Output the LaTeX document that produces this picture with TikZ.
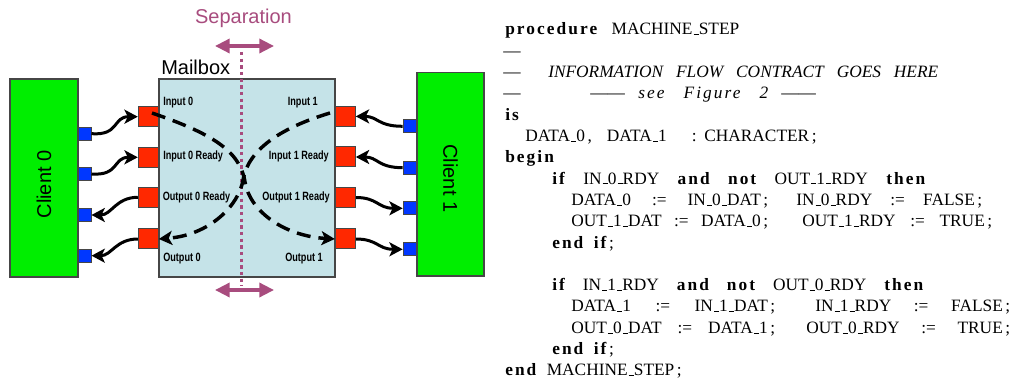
\documentclass[tikz,border=0pt]{standalone}
\usepackage{fontspec}
\usepackage{graphicx}
\usetikzlibrary{arrows.meta}
\setmainfont{Liberation Serif}
\newfontfamily\sansfont{Liberation Sans}
\newfontfamily\kwfont[LetterSpace=12]{Liberation Serif}
\newcommand\kwd[1]{{\kwfont\bfseries #1}}
\newcommand\kwi[1]{{\kwfont\itshape #1}}
\newcommand\us{\leavevmode\kern.06em\vbox{\hrule width .3em height 0.5pt}}
\newcommand\semi{\kern.15em;}
\newcommand\comm{\kern.15em,}
\newcommand\wgap{\hspace{.6em}}
\newdimen\upx \upx=0.75pt
\newcommand\codeln[5]{\node[code] (#1) at (#2,#3) {\makebox[#4\upx][s]{#5}};}
\newcommand\nar[1]{\scalebox{0.76}[1]{#1}}
\definecolor{clientgreen}{RGB}{0,238,0}
\definecolor{portblue}{RGB}{0,55,255}
\definecolor{portred}{RGB}{255,40,0}
\definecolor{mailfill}{RGB}{197,227,232}
\definecolor{sepcol}{RGB}{168,76,126}
\definecolor{edgegray}{RGB}{70,70,70}
\tikzset{
  client/.style={draw=edgegray, line width=0.9pt, fill=clientgreen, inner sep=0pt,
    font=\sansfont\fontsize{15pt}{18pt}\selectfont},
  mailbox/.style={draw=edgegray, line width=0.9pt, fill=mailfill,
    minimum width=132pt, minimum height=148.5pt, inner sep=0pt},
  bport/.style={draw=edgegray, line width=0.75pt, fill=portblue, minimum size=9.75pt, inner sep=0pt},
  rport/.style={draw=edgegray, line width=0.75pt, fill=portred, minimum size=15pt, inner sep=0pt},
  conn/.style={line width=2.25pt, -{Stealth[length=10pt,width=10.5pt,inset=2.5pt]}},
  flow/.style={line width=2.6pt, dash pattern=on 10.5pt off 6pt, -{Stealth[length=10pt,width=10.5pt,inset=2.5pt]}},
  sepline/.style={draw=sepcol, line width=2.25pt, dash pattern=on 2.5pt off 2.5pt},
  separrow/.style={draw=sepcol, line width=2.5pt,
    {Triangle[length=11pt,width=10.5pt]}-{Triangle[length=11pt,width=10.5pt]}},
  mlab/.style={font=\sansfont\bfseries\fontsize{9pt}{10pt}\selectfont, inner sep=0pt},
  biglab/.style={font=\sansfont\fontsize{15pt}{18pt}\selectfont, inner sep=0pt, anchor=base},
  code/.style={anchor=base west, inner sep=0pt, font=\fontsize{13pt}{15pt}\selectfont}
}
\begin{document}
\begin{tikzpicture}[x=0.75pt,y=-0.75pt]
\useasboundingbox (0,0) rectangle (1018,381);
\fill[white] (0,0) rectangle (1018,381);

% clients and mailbox
\node[client, rotate=90, minimum width=148.5pt, minimum height=51pt] (c0) at (44,178) {\hspace*{-13\upx}Client 0};
\node[client, rotate=-90, minimum width=152.5pt, minimum height=50.25pt] (c1) at (450.5,174.4) {\hspace*{8\upx}Client 1};
\node[mailbox] (mb) at (247,178) {};
\node[biglab, anchor=base west] (mbl) at (161,75) {Mailbox};

% separation
\node[biglab, text=sepcol] (sept) at (243.5,24) {Separation};
\coordinate (sl1) at (215,46);
\coordinate (sr1) at (274,46);
\coordinate (sl2) at (215,290);
\coordinate (sr2) at (274,290);
\coordinate (st) at (241,52);
\coordinate (sb) at (241,286);
\draw[separrow] (sl1) -- (sr1);
\draw[separrow] (sl2) -- (sr2);
\draw[sepline] (st) -- (sb);

% ports
\node[bport] (c0p1) at (84.5,133.7) {};
\node[bport] (c0p2) at (84.5,174) {};
\node[bport] (c0p3) at (84.5,215) {};
\node[bport] (c0p4) at (84.5,255.7) {};
\node[rport] (m0p1) at (148.3,116.7) {};
\node[rport] (m0p2) at (148.3,157.3) {};
\node[rport] (m0p3) at (148.3,197.3) {};
\node[rport] (m0p4) at (148.3,239) {};
\node[rport] (m1p1) at (345.3,116.4) {};
\node[rport] (m1p2) at (345.3,157) {};
\node[rport] (m1p3) at (345.3,197.5) {};
\node[rport] (m1p4) at (345.3,239) {};
\node[bport] (c1p1) at (409.7,126.3) {};
\node[bport] (c1p2) at (409.7,167.7) {};
\node[bport] (c1p3) at (409.7,208.3) {};
\node[bport] (c1p4) at (409.7,249.3) {};

% port labels
\node[mlab, anchor=base west] (li0) at (163,106) {\nar{Input 0}};
\node[mlab, anchor=base west] (li0r) at (163,160) {\nar{Input 0 Ready}};
\node[mlab, anchor=base west] (lo0r) at (162.5,201) {\nar{Output 0 Ready}};
\node[mlab, anchor=base west] (lo0) at (163,262) {\nar{Output 0}};
\node[mlab, anchor=base east] (li1) at (318,106) {\nar{Input 1}};
\node[mlab, anchor=base east] (li1r) at (329,160) {\nar{Input 1 Ready}};
\node[mlab, anchor=base east] (lo1r) at (330,201) {\nar{Output 1 Ready}};
\node[mlab, anchor=base east] (lo1) at (323,262) {\nar{Output 1}};

% client connectors
\draw[conn] (c0p1.east) .. controls +(28,2) and +(-25,0) .. (m0p1.west);
\draw[conn] (c0p2.east) .. controls +(28,2) and +(-25,0) .. (m0p2.west);
\draw[conn] (m0p3.west) .. controls +(-22,0) and +(20,0) .. (c0p3.east);
\draw[conn] (m0p4.west) .. controls +(-22,0) and +(20,0) .. (c0p4.east);
\draw[conn] (c1p1.west) .. controls +(-25,0) and +(22,0) .. (m1p1.east);
\draw[conn] (c1p2.west) .. controls +(-25,0) and +(22,0) .. (m1p2.east);
\draw[conn] (m1p3.east) .. controls +(22,0) and +(-25,0) .. (c1p3.west);
\draw[conn] (m1p4.east) .. controls +(22,0) and +(-25,0) .. (c1p4.west);

% information flow
\coordinate (a0) at (152,113);
\coordinate (b0) at (330,113);
\draw[flow] (a0) .. controls (210,133) and (240,150) .. (245,182)
  .. controls (250,212) and (285,236) .. (m1p4.west);
\draw[flow] (b0) .. controls (280,128) and (248,150) .. (243,180)
  .. controls (239,205) and (210,235) .. (m0p4.east);

% code
\codeln{l1}{505}{35}{234}{\kwd{procedure} MACHINE\us STEP}
\node[code] (l2) at (503,56.3) {—};
\node[code] (l3a) at (503,77.6) {—};
\codeln{l3b}{548}{77.6}{390}{\itshape INFORMATION FLOW CONTRACT GOES HERE}
\node[code] (l4a) at (503,98.9) {—};
\node[code] (l4b) at (590,98.9) {——};
\codeln{l4c}{638}{98.9}{130}{\kwi{see Figure 2}}
\node[code] (l4d) at (781,98.9) {——};
\node[code] (l5) at (505,120.2) {\kwd{is}};
\node[code] (l6a) at (525,141.5) {DATA\us 0\comm};
\node[code] (l6b) at (606.7,141.5) {DATA\us 1};
\node[code] (l6c) at (691.7,141.5) {:};
\node[code] (l6d) at (704,141.5) {CHARACTER\semi};
\node[code] (l7) at (505,162.8) {\kwd{begin}};
\codeln{l8}{552}{184.1}{373}{\kwd{if} IN\us 0\us RDY \kwd{and} \kwd{not} OUT\us 1\us RDY \kwd{then}}
\codeln{l9a}{571}{205.4}{197}{DATA\us 0 := IN\us 0\us DAT\semi}
\codeln{l9b}{796}{205.4}{186}{IN\us 0\us RDY := FALSE\semi}
\codeln{l10a}{571}{226.7}{197}{OUT\us 1\us DAT := DATA\us 0\semi}
\codeln{l10b}{802}{226.7}{190}{OUT\us 1\us RDY := TRUE\semi}
\node[code] (l11) at (552,248) {\kwd{end}\wgap\kwd{if}\kern.15em;};
\codeln{l13}{552}{290.6}{371}{\kwd{if} IN\us 1\us RDY \kwd{and} \kwd{not} OUT\us 0\us RDY \kwd{then}}
\codeln{l14a}{571}{311.9}{204}{DATA\us 1 := IN\us 1\us DAT\semi}
\codeln{l14b}{815}{311.9}{195}{IN\us 1\us RDY := FALSE\semi}
\codeln{l15a}{571}{333.2}{204}{OUT\us 0\us DAT := DATA\us 1\semi}
\codeln{l15b}{806}{333.2}{204}{OUT\us 0\us RDY := TRUE\semi}
\node[code] (l16) at (552,354.5) {\kwd{end}\wgap\kwd{if}\kern.15em;};
\node[code] (l17) at (505,375.8) {\kwd{end}\wgap MACHINE\us STEP\semi};
\end{tikzpicture}
\end{document}
